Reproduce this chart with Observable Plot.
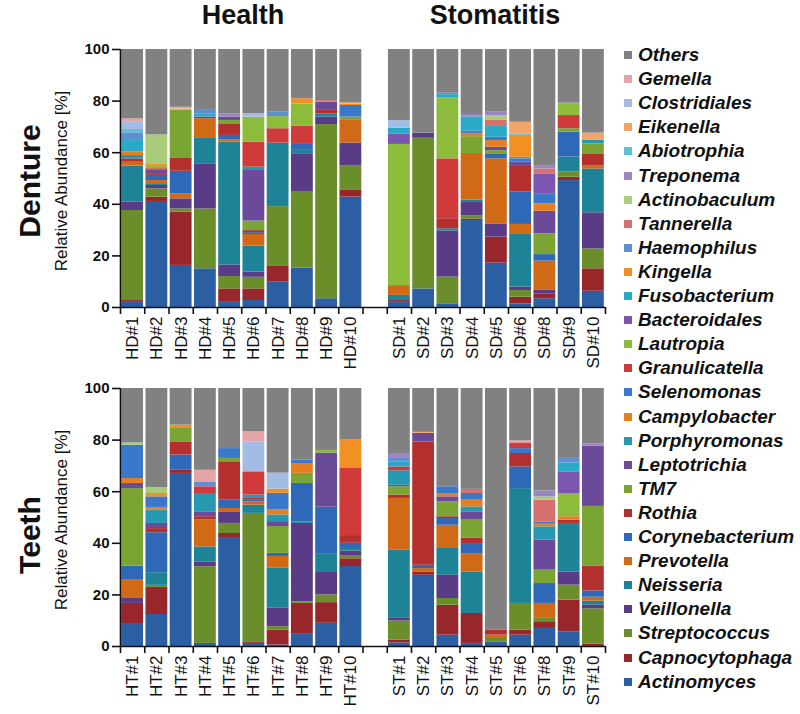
<!DOCTYPE html>
<html><head><meta charset="utf-8">
<script src="https://cdn.jsdelivr.net/npm/d3@7"></script>
<script src="https://cdn.jsdelivr.net/npm/@observablehq/plot@0.6"></script>
<style>
body{margin:0;background:#fff;font-family:"Liberation Sans",Arial,sans-serif;color:#111;}
#wrap{position:relative;width:800px;height:714px;overflow:hidden;background:#fff;}
.abs{position:absolute;white-space:nowrap;}
.title{font-size:27px;font-weight:bold;line-height:31px;transform:translateX(-50%);}
.row{font-size:30px;font-weight:bold;transform:translate(-50%,-50%) rotate(-90deg);}
.ylab{font-size:17px;transform:translate(-50%,-50%) rotate(-90deg);}
.sw{width:8px;height:8px;}
.lt{font-size:19px;font-weight:bold;font-style:italic;line-height:24px;}
.plotbox{position:absolute;left:0;}
</style></head><body><div id="wrap"></div>
<script>
// Taxa in stacking order (bottom -> top), with short codes and colours
const taxa = ["Actinomyces","Capnocytophaga","Streptococcus","Veillonella","Neisseria","Prevotella","Corynebacterium","Rothia","TM7","Leptotrichia","Porphyromonas","Campylobacter","Selenomonas","Granulicatella","Lautropia","Bacteroidales","Fusobacterium","Kingella","Haemophilus","Tannerella","Actinobaculum","Treponema","Abiotrophia","Eikenella","Clostridiales","Gemella","Others"];
const codes = ["A","Cap","Str","Vei","Nei","Pre","Cor","Rot","TM7","Lep","Por","Cam","Sel","Gra","Lau","Bac","Fus","Kin","Hae","Tan","Act","Tre","Abi","Eik","Clo","Gem","Oth"];
const colors = ["#2b5ea3","#98272b","#6a8f2a","#5a3b86","#1f8397","#d06a17","#3068b8","#b3302f","#7aa535","#6b4a9a","#2698b0","#e67e22","#3a78cc","#cf3b3b","#8dbb3c","#7b55b0","#29a9c6","#f39024","#5f8fd0","#d4706e","#a9cc7a","#9a86c4","#5ac1d8","#f5a468","#a3bce3","#e3a5a5","#818181"];

// Sample labels
const dentureLabels = ["HD#1","HD#2","HD#3","HD#4","HD#5","HD#6","HD#7","HD#8","HD#9","HD#10","","SD#1","SD#2","SD#3","SD#4","SD#5","SD#6","SD#8","SD#9","SD#10"];
const teethLabels = ["HT#1","HT#2","HT#3","HT#4","HT#5","HT#6","HT#7","HT#8","HT#9","HT#10","","ST#1","ST#2","ST#3","ST#4","ST#5","ST#6","ST#8","ST#9","ST#10"];

// Relative abundance [%] per sample
const HD1 = {A:2, Cap:0.7, Str:34.9, Vei:3.2, Nei:14, Pre:1.5, Rot:1.3, Por:1.3, Cam:1.3, Fus:4.5, Hae:3, Abi:1.3, Clo:2.8, Gem:1.3, Oth:26.9};
const HD2 = {A:41.1, Cap:1.7, Str:3.2, Vei:1.3, Nei:0.7, Pre:1.2, Cor:2.0, Rot:0.7, Lep:1.3, Gra:0.6, Lau:1.2, Kin:0.7, Act:11.2, Oth:33.1};
const HD3 = {A:16.3, Cap:20.7, Str:1.2, Vei:3.9, Pre:2.0, Cor:8.7, Rot:5.2, TM7:18.4, Eik:0.6, Gem:0.6, Oth:22.4};
const HD4 = {A:15, Str:23.2, Vei:17.5, Nei:10.1, Pre:7.3, Rot:0.7, Fus:1.3, Hae:1.3, Oth:23.6};
const HD5 = {A:2, Cap:5.2, Str:4.8, Vei:4.5, Nei:47.6, Pre:0.9, Cor:1.7, Rot:4.5, TM7:1.3, Lep:1.3, Tre:1.3, Oth:24.9};
const HD6 = {A:2.7, Cap:4.5, Str:4.5, Vei:2, Nei:10.1, Pre:4.5, Cor:0.7, Rot:0.8, TM7:3.7, Lep:19.6, Por:1.3, Gra:9.7, Lau:9.7, Clo:1.3, Oth:24.9};
const HD7 = {A:9.8, Cap:6.1, Str:23.2, Nei:24.6, Gra:5.6, Lau:4.7, Hae:1.7, Oth:24.3};
const HD8 = {A:15.2, Str:29.5, Vei:14.9, Nei:1.3, Cor:2.3, Gra:7, Lau:8.7, Kin:2, Oth:19.1};
const HD9 = {A:3.4, Str:67.5, Vei:2.9, Nei:1.3, Rot:1.3, Lep:3.2, Tan:0.6, Oth:19.8};
const HD10 = {A:42.8, Cap:2.8, Str:9.4, Vei:8.7, Pre:8.8, TM7:1.3, Sel:4.5, Kin:0.6, Eik:0.4, Oth:20.7};
const SD1 = {A:2, Cap:0.7, Nei:2, Pre:3.8, Lau:54.7, Bac:4.1, Fus:2.2, Clo:3.0, Oth:27.5};
const SD2 = {A:7.2, Str:58.4, Vei:2, Oth:32.4};
const SD3 = {A:1.2, Str:10.6, Vei:17.8, Nei:0.9, Rot:3.9, Gra:23.2, Lau:23.7, Fus:1.2, Hae:0.6, Oth:16.9};
const SD4 = {A:33.7, Cap:0.6, Str:1.3, Vei:5.4, Nei:0.6, Pre:18.1, TM7:6.5, Cam:1.3, Sel:0.9, Fus:5.5, Tre:0.9, Oth:25.2};
const SD5 = {A:17.2, Cap:10.1, Vei:5.1, Pre:25.2, Cor:1.7, TM7:1.5, Lep:1.3, Cam:2.6, Sel:1.3, Fus:4.2, Tan:2.3, Act:1.9, Tre:1.3, Oth:24.3};
const SD6 = {A:1.4, Cap:2.6, Str:2.6, Vei:1.3, Nei:20.7, Pre:3.6, Cor:12.5, Rot:10.3, Lep:1.3, Sel:1.3, Fus:0.6, Kin:8.5, Abi:0.6, Eik:4.5, Oth:28.2};
const SD8 = {A:3.4, Cap:1.9, Vei:1.5, Pre:11.2, Cor:2.5, TM7:8.1, Lep:8.7, Cam:2.9, Sel:3.9, Bac:7.7, Tan:1.9, Tre:1.3, Oth:45};
const SD9 = {A:49.2, Cap:1.3, Str:2, Nei:5.8, Cor:9.7, TM7:1.3, Gra:5.1, Lau:4.3, Abi:0.5, Oth:20.8};
const SD10 = {A:6.3, Cap:8.7, Str:7.7, Vei:14, Nei:17, Pre:1.3, Rot:4.3, TM7:4.1, Por:1.5, Eik:2.7, Oth:32.4};

const HT1 = {A:8.9, Cap:7.8, Vei:1.9, Pre:7.1, Cor:5.4, TM7:30.1, Lep:2, Cam:1.9, Sel:12.9, Act:0.9, Oth:21.1};
const HT2 = {A:12.4, Cap:10.5, Str:0.8, Nei:4.9, Cor:15.5, Rot:1.6, Lep:2, Por:5.1, Cam:1.1, Sel:4.1, Kin:1.3, Act:2.3, Oth:38.4};
const HT3 = {A:67.1, Cap:1.2, Cor:5.9, Rot:5.1, TM7:5.2, Kin:1.3, Oth:14.2};
const HT4 = {A:1.2, Str:29.7, Vei:1.9, Nei:5.8, Pre:10.4, Rot:1.3, Lep:1.9, Por:7.1, Gra:2.6, Hae:1.9, Gem:4.5, Oth:31.7};
const HT5 = {A:41.9, Cap:1.9, Str:3.9, Vei:4.5, Pre:1.3, Cor:3.2, Rot:14.9, TM7:1.3, Sel:3.8, Oth:23.3};
const HT6 = {A:1.2, Cap:0.6, Str:49.8, Nei:3.2, Pre:1.3, Cor:0.6, Rot:0.7, Por:1.3, Gra:9, Clo:11.6, Gem:3.9, Oth:16.8};
const HT7 = {A:0.6, Cap:5.8, Str:1.3, Vei:7.1, Nei:15.5, Pre:4.6, Cor:1.2, TM7:10.4, Lep:1.9, Por:2.6, Cam:1.9, Sel:6.5, Kin:1.6, Clo:6.2, Oth:32.8};
const HT8 = {A:5, Cap:11.7, Str:0.6, Vei:30.4, Nei:0.6, Cor:14.9, TM7:3.9, Cam:3.8, Sel:1.3, Oth:27.8};
const HT9 = {A:9, Cap:8, Str:3, Vei:9, Nei:7, Cor:18, Lep:21, Lau:1, Oth:24};
const HT10 = {A:31, Cap:3, Str:1, Vei:2, Nei:1, Cor:2, Rot:3, Gra:26, Kin:11, Oth:20};
const ST1 = {A:1.4, Cap:1.1, Str:7.4, Vei:1.0, Nei:26.4, Pre:20.1, Rot:1.3, TM7:3.2, Lep:0.6, Por:5.6, Gra:1.5, Fus:2.0, Hae:1.6, Tre:1.6, Oth:25.2};
const ST2 = {A:27.6, Cap:1.3, Pre:1.3, Cor:1.3, Rot:47.8, Lep:3.3, Eik:0.4, Oth:17};
const ST3 = {A:4.4, Cap:11.6, Str:2.6, Vei:9, Nei:10.4, Pre:9, Cor:2.6, Rot:0.7, TM7:5.8, Lep:1.9, Cam:1.3, Sel:2.6, Oth:38.1};
const ST4 = {A:1.2, Cap:11.6, Nei:16.1, Pre:7.1, Cor:3.9, Rot:2, TM7:7.1, Lep:3.2, Por:1.9, Cam:2.6, Sel:2.6, Tan:1.6, Oth:39.1};
const ST5 = {A:1.8, Str:1.3, Pre:1.3, Rot:1.9, Oth:93.7};
const ST6 = {A:4.4, Cap:1.9, Str:10.4, Nei:44.5, Cor:8.4, Rot:5.2, Sel:1.9, Gra:2.2, Gem:0.8, Oth:20.3};
const ST8 = {A:7, Cap:2.6, Str:1.3, Pre:5.8, Cor:7.7, TM7:5.2, Lep:11.6, Por:5.2, Cam:1, Sel:0.9, Tan:8.4, Act:1.3, Tre:2.3, Oth:39.7};
const ST9 = {A:5.7, Cap:12.3, Str:5.8, Vei:5.1, Nei:18.8, Rot:1.3, Cam:1.3, Lau:9, Bac:8.4, Fus:3.5, Hae:1.7, Oth:27.1};
const ST10 = {Cap:1, Str:13.6, Vei:1.5, Nei:1.5, Pre:1.5, Cor:2.4, Rot:9.7, TM7:23.1, Lep:23.3, Tre:1.0, Oth:21.4};

const dentureSamples = [HD1,HD2,HD3,HD4,HD5,HD6,HD7,HD8,HD9,HD10,null,SD1,SD2,SD3,SD4,SD5,SD6,SD8,SD9,SD10];
const teethSamples = [HT1,HT2,HT3,HT4,HT5,HT6,HT7,HT8,HT9,HT10,null,ST1,ST2,ST3,ST4,ST5,ST6,ST8,ST9,ST10];
const yTicks = [0,20,40,60,80,100];

const FONT = '"Liberation Sans", Arial, sans-serif';
const wrap = document.getElementById("wrap");

function panel(samples, labels, height, marginBottom) {
  const rows = [];
  samples.forEach((s, i) => {
    if (!s) return;
    codes.forEach((c, k) => rows.push({x1: i, x2: i + 1, taxon: taxa[k], value: s[c] || 0}));
  });
  const centers = labels.map((l, i) => l ? i + 0.5 : null).filter(d => d !== null);
  const n = labels.length;
  return Plot.plot({
    width: 612, height, marginLeft: 120, marginRight: 7, marginTop: 49, marginBottom,
    style: {background: "transparent", fontFamily: FONT, overflow: "visible", color: "#111"},
    x: {domain: [0, n], axis: null, label: null},
    y: {domain: [0, 100], axis: null, label: null},
    color: {domain: taxa, range: colors},
    marks: [
      Plot.rectY(rows, {x1: "x1", x2: "x2", y: "value", fill: "taxon", insetLeft: 1.2, insetRight: 1.2}),
      Plot.ruleY([0], {stroke: "#111", strokeWidth: 1.6}),
      Plot.ruleX([0], {stroke: "#111", strokeWidth: 1.6}),
      Plot.axisX({ticks: d3.range(0, n + 1), tickSize: 7, tickFormat: () => "", strokeWidth: 1.6, stroke: "#111", label: null}),
      Plot.axisX({ticks: centers, tickSize: 0, tickPadding: 9, tickRotate: -90, label: null,
        tickFormat: d => labels[Math.floor(d)], fontSize: 17, fill: "#111"}),
      Plot.axisY({ticks: yTicks, tickSize: 8, tickPadding: 3, fontSize: 15, fontWeight: "bold", fill: "#111", strokeWidth: 1.6, stroke: "#111", label: null})
    ]
  });
}

function place(el, top) {
  const box = document.createElement("div");
  box.className = "plotbox";
  box.style.top = top + "px";
  box.appendChild(el);
  wrap.appendChild(box);
}
place(panel(dentureSamples, dentureLabels, 380, 73), 0);
place(panel(teethSamples, teethLabels, 375, 68), 339);

function addText(cls, text, left, top) {
  const d = document.createElement("div");
  d.className = "abs " + cls;
  d.textContent = text;
  d.style.left = left + "px";
  d.style.top = top + "px";
  wrap.appendChild(d);
  return d;
}
addText("title", "Health", 243, 0);
addText("title", "Stomatitis", 495, 0);
addText("row", "Denture", 30, 181);
addText("row", "Teeth", 30, 535);
addText("ylab", "Relative Abundance [%]", 62, 181);
addText("ylab", "Relative Abundance [%]", 62, 520);

// Legend (top -> bottom is reverse of stacking order)
const legendOrder = taxa.slice().reverse();
legendOrder.forEach((t, k) => {
  const cy = 55 + 24.1 * k;
  const sw = document.createElement("div");
  sw.className = "abs sw";
  sw.style.left = "624px";
  sw.style.top = (cy - 4) + "px";
  sw.style.background = colors[taxa.indexOf(t)];
  wrap.appendChild(sw);
  addText("lt", t, 638, cy - 12);
});
</script></body></html>
